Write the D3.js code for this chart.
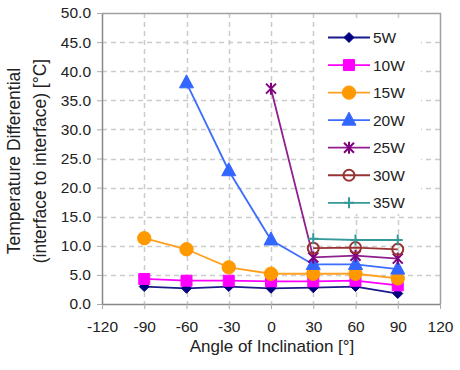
<!DOCTYPE html>
<html>
<head>
<meta charset="utf-8">
<script src="https://cdn.jsdelivr.net/npm/d3@7"></script>
<style>
    body { margin: 0; background: #ffffff; }
    #chart { width: 460px; height: 370px; }
    text { font-family: "Liberation Sans", Arial, sans-serif; fill: #222222; }
</style>
</head>
<body>
<div id="chart"></div>
<script>
///////////////////////////////////////////////////////////////////////////////////////////////////

// angles of inclination (x values)
var angles = [-90, -60, -30, 0, 30, 60, 90];

// temperature differential per heater power, null where nothing was measured
var series_names = ["5W", "10W", "15W", "20W", "25W", "30W", "35W"];
var values_5w  = [3.0, 2.7, 3.0, 2.7, 2.8, 3.0, 1.8];
var values_10w = [4.3, 4.0, 4.0, 3.9, 3.9, 4.0, 3.2];
var values_15w = [11.3, 9.4, 6.3, 5.2, 5.2, 5.2, 4.4];
var values_20w = [null, 38.0, 22.9, 11.0, 6.8, 6.8, 6.0];
var values_25w = [null, null, null, 37.0, 8.0, 8.3, 7.8];
var values_30w = [null, null, null, null, 9.6, 9.7, 9.4];
var values_35w = [null, null, null, null, 11.2, 11.0, 11.0];

var x_ticks = [-120, -90, -60, -30, 0, 30, 60, 90, 120];
var y_ticks = [0, 5, 10, 15, 20, 25, 30, 35, 40, 45, 50];

///////////////////////////////////////////////////////////////////////////////////////////////////

function marker_path(type) {
    //////////////////////////////////////////////////////////////////////
    //
    // Returns a path string for the marker of a series, centred on 0,0
    //
    //////////////////////////////////////////////////////////////////////
    if (type == "diamond")  { return "M0,-5L5,0L0,5L-5,0Z"; }
    if (type == "square")   { return d3.symbol().type(d3.symbolSquare).size(121)(); }
    if (type == "circle")   { return d3.symbol().type(d3.symbolCircle).size(140)(); }
    if (type == "triangle") { return "M0,-8L7,5L-7,5Z"; }
    if (type == "star")     { return "M-5,-5L5,5M-5,5L5,-5M0,-6L0,6"; }
    if (type == "ring")     { return d3.symbol().type(d3.symbolCircle).size(95)(); }
    if (type == "plus")     { return "M0,-5.5L0,5.5M-5,0L5,0"; }
    return "";
} // end function

///////////////////////////////////////////////////////////////////////////////////////////////////

function d3_line_chart(element_id) {

    let element_check = document.getElementById(element_id);
    if (!element_check) { return; }

    var svg_width = 460;
    var svg_height = 370;
    var plot = { left: 102, right: 440, top: 13, bottom: 304 };

    var series = [
        { name: series_names[0], values: values_5w,  color: "#000080", line: "#1a1a8c", fill: "#000080", marker: "diamond" },
        { name: series_names[1], values: values_10w, color: "#ff00ff", line: "#ff00ff", fill: "#ff00ff", marker: "square" },
        { name: series_names[2], values: values_15w, color: "#ff9900", line: "#ffa020", fill: "#ff9900", marker: "circle" },
        { name: series_names[3], values: values_20w, color: "#3366ff", line: "#3d6dff", fill: "#3366ff", marker: "triangle" },
        { name: series_names[4], values: values_25w, color: "#800080", line: "#8f1f8f", fill: "none",    marker: "star" },
        { name: series_names[5], values: values_30w, color: "#993333", line: "#993333", fill: "none",    marker: "ring" },
        { name: series_names[6], values: values_35w, color: "#339999", line: "#339999", fill: "none",    marker: "plus" }
    ];

    var svg = d3.select('#' + element_id)
      .append("svg")
        .attr("width",  svg_width)
        .attr("height", svg_height);

    var x = d3.scaleLinear()
        .domain([-120, 120])
        .range([plot.left, plot.right]);
    var y = d3.scaleLinear()
        .domain([0, 50])
        .range([plot.bottom, plot.top]);

    // dashed grid
    var grid = svg.append("g")
        .attr("stroke", "#cccccc")
        .attr("stroke-width", 1.5)
        .attr("stroke-dasharray", "5,4");
    grid.selectAll(".gx")
        .data(x_ticks.slice(1, -1))
        .join("line")
            .attr("x1", function(d) { return Math.round(x(d)) + 0.5; })
            .attr("x2", function(d) { return Math.round(x(d)) + 0.5; })
            .attr("y1", plot.top)
            .attr("y2", plot.bottom);
    grid.selectAll(".gy")
        .data(y_ticks.slice(1, -1))
        .join("line")
            .attr("x1", plot.left)
            .attr("x2", plot.right)
            .attr("y1", function(d) { return Math.round(y(d)) + 0.5; })
            .attr("y2", function(d) { return Math.round(y(d)) + 0.5; });

    // plot frame (top and right)
    svg.append("path")
        .attr("d", "M" + plot.left + "," + (plot.top + 0.5) + "H" + (plot.right + 0.5) + "V" + plot.bottom)
        .attr("fill", "none")
        .attr("stroke", "#a0a0a0")
        .attr("stroke-width", 1.5);

    // axes
    var x_axis = svg.append("g")
        .attr("transform", "translate(0," + plot.bottom + ")")
        .call(d3.axisBottom(x).tickValues(x_ticks).tickSize(5).tickPadding(12).tickSizeOuter(0)
            .tickFormat(d3.format("d")));
    var y_axis = svg.append("g")
        .attr("transform", "translate(" + plot.left + ",0)")
        .call(d3.axisLeft(y).tickValues(y_ticks).tickSize(5).tickPadding(6).tickSizeOuter(0)
            .tickFormat(d3.format(".1f")));
    [x_axis, y_axis].forEach(function(a) {
        a.select(".domain").attr("stroke", "#888888").attr("stroke-width", 1.5);
        a.selectAll(".tick line").attr("stroke", "#aaaaaa");
        a.selectAll(".tick text")
            .style("font-family", "'Liberation Sans', Arial, sans-serif")
            .style("font-size", "15.5px")
            .style("fill", "#222222");
    });
    x_axis.selectAll(".tick text").text(function(d) { return d < 0 ? "-" + Math.abs(d) : d; });

    // axis titles
    svg.append("text")
        .attr("x", 272)
        .attr("y", 352)
        .style("text-anchor", "middle")
        .style("font-size", "17px")
        .text("Angle of Inclination [°]");

    var y_title = svg.append("text")
        .attr("transform", "translate(20,161) rotate(-90)")
        .style("text-anchor", "middle")
        .style("font-size", "17.5px");
    y_title.append("tspan").attr("x", 0).attr("y", 0).text("Temperature Differential");
    y_title.append("tspan").attr("x", 0).attr("y", 26).text("(interface to interface) [°C]");

    // series lines and markers
    var line = d3.line()
        .defined(function(d) { return d.v != null; })
        .x(function(d) { return x(d.a); })
        .y(function(d) { return y(d.v); });

    series.forEach(function(s) {
        let pts = angles.map(function(a, i) { return { a: a, v: s.values[i] }; });
        svg.append("path")
            .datum(pts)
            .attr("d", line)
            .attr("fill", "none")
            .attr("stroke", s.line)
            .attr("stroke-width", 1.8);
        svg.selectAll(".m" + s.name)
            .data(pts.filter(function(d) { return d.v != null; }))
            .join("path")
                .attr("transform", function(d) { return "translate(" + x(d.a) + "," + y(d.v) + ")"; })
                .attr("d", marker_path(s.marker))
                .attr("fill", s.fill)
                .attr("stroke", s.color)
                .attr("stroke-width", s.fill == "none" ? 2 : 1);
    });

    // legend
    var legend = svg.append("g");
    legend.append("rect")
        .attr("x", 316)
        .attr("y", 22)
        .attr("width", 105)
        .attr("height", 192)
        .attr("fill", "#ffffff");
    var row = legend.selectAll(".row")
        .data(series)
        .join("g")
            .attr("transform", function(d, i) { return "translate(0," + (37.5 + i * 27.55) + ")"; });
    row.append("line")
        .attr("x1", 328)
        .attr("x2", 370)
        .attr("stroke", function(d) { return d.line; })
        .attr("stroke-width", 1.8);
    row.append("path")
        .attr("transform", "translate(349,0)")
        .attr("d", function(d) { return marker_path(d.marker); })
        .attr("fill", function(d) { return d.fill; })
        .attr("stroke", function(d) { return d.color; })
        .attr("stroke-width", function(d) { return d.fill == "none" ? 2 : 1; });
    row.append("text")
        .attr("x", 373)
        .attr("dy", "0.36em")
        .style("font-size", "15.5px")
        .text(function(d) { return d.name; });

} // end function

///////////////////////////////////////////////////////////////////////////////////////////////////

d3_line_chart("chart");
</script>
</body>
</html>
